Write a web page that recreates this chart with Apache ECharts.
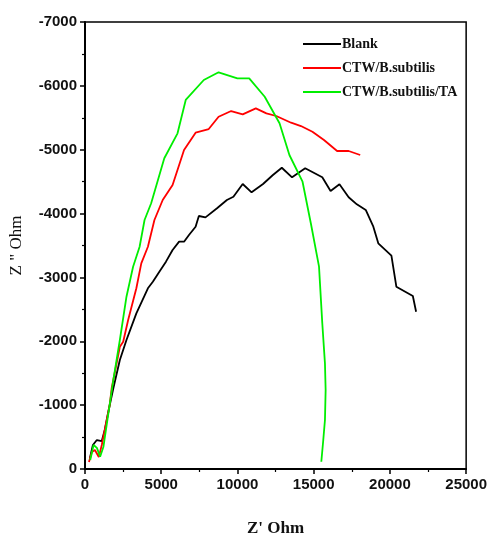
<!DOCTYPE html>
<html>
<head>
<meta charset="utf-8">
<script src="https://cdn.jsdelivr.net/npm/echarts@6/dist/echarts.min.js"></script>
<style>
html,body{margin:0;padding:0;background:#fff;}
#c{width:490px;height:542px;}
</style>
</head>
<body>
<div id="c"></div>
<script>
var seriesNames = ['Blank', 'CTW/B.subtilis', 'CTW/B.subtilis/TA'];
var xTicks = [0, 5000, 10000, 15000, 20000, 25000];
var yTicks = [0, -1000, -2000, -3000, -4000, -5000, -6000, -7000];

var blankX = [324, 518, 777, 1101, 1295, 1554, 1859, 2286, 2720, 3368, 4126, 4450, 4877, 5311, 5745, 6173, 6496, 6820, 7254, 7468, 7902, 8660, 9307, 9735, 10344, 10927, 11678, 12326, 12909, 13582, 14443, 15564, 16108, 16691, 17294, 17831, 18414, 18913, 19237, 20098, 20422, 21504, 21717];
var blankY = [-172, -376, -454, -438, -611, -924, -1264, -1707, -2020, -2438, -2830, -2933, -3090, -3247, -3430, -3560, -3560, -3664, -3794, -3962, -3940, -4083, -4213, -4264, -4463, -4333, -4463, -4604, -4718, -4568, -4709, -4568, -4353, -4458, -4255, -4145, -4056, -3794, -3534, -3340, -2855, -2709, -2463];

var ctwX = [259, 453, 648, 907, 1101, 1360, 1619, 1749, 2286, 2505, 2830, 3368, 3692, 4126, 4553, 5097, 5745, 6496, 7254, 8116, 8763, 9586, 10344, 11205, 11898, 12545, 13517, 14165, 14917, 15674, 16536, 17294, 18051];
var ctwY = [-110, -266, -298, -188, -376, -689, -1002, -1264, -1915, -1993, -2333, -2830, -3221, -3481, -3899, -4213, -4447, -4996, -5267, -5324, -5517, -5606, -5554, -5648, -5570, -5528, -5423, -5371, -5282, -5152, -4980, -4980, -4917];

var taX = [343, 563, 780, 991, 1211, 1859, 2286, 2720, 3154, 3582, 3906, 4340, 5201, 6069, 6607, 7792, 8763, 9994, 10771, 11788, 12760, 13407, 14269, 14813, 15350, 15564, 15739, 15784, 15739, 15629, 15500];
var taY = [-141, -376, -330, -193, -349, -1394, -2020, -2698, -3168, -3481, -3899, -4161, -4866, -5257, -5779, -6092, -6212, -6118, -6118, -5830, -5414, -4917, -4499, -3848, -3168, -2282, -1655, -1237, -767, -454, -114];

function pairs(xs, ys) { return xs.map(function (x, i) { return [x, ys[i]]; }); }

var colors = ['#000000', '#ff0000', '#00ee00'];
var lineIcon = 'path://M0,0 L0.001,0 M0,6 L40,6 L40,8 L0,8 Z M0,14 L0.001,14';
var chart = echarts.init(document.getElementById('c'), null, {renderer: 'canvas'});
var tickFont = {fontFamily: 'Liberation Sans, Arial, sans-serif', fontWeight: 'bold', fontSize: 15, color: '#111'};
function plain(v) { return String(v); }

chart.setOption({
  animation: false,
  backgroundColor: '#fff',
  grid: {left: 83, top: 22, right: 21, bottom: 73, show: true, borderColor: '#000', borderWidth: 1.5, backgroundColor: 'transparent'},
  legend: {
    orient: 'vertical', left: 298, top: 32,
    itemWidth: 38, itemHeight: 14, itemGap: 10, icon: lineIcon,
    data: seriesNames,
    textStyle: {fontFamily: 'Liberation Serif, Times New Roman, serif', fontWeight: 'bold', fontSize: 14, color: '#111', padding: [0, 0, 0, -4]}
  },
  xAxis: {
    type: 'value', min: xTicks[0], max: xTicks[xTicks.length - 1], interval: 5000,
    name: "Z' Ohm", nameLocation: 'middle', nameGap: 51,
    nameTextStyle: {fontFamily: 'Liberation Serif, Times New Roman, serif', fontWeight: 'bold', fontSize: 17, color: '#111'},
    axisLine: {show: true, onZero: false, lineStyle: {color: '#000', width: 2}},
    axisTick: {show: true, length: 5, lineStyle: {color: '#000', width: 1.5}},
    minorTick: {show: true, splitNumber: 2, length: 3, lineStyle: {color: '#000', width: 1.2}},
    splitLine: {show: false},
    axisLabel: Object.assign({margin: 8, formatter: plain}, tickFont)
  },
  yAxis: {
    type: 'value', min: yTicks[yTicks.length - 1], max: yTicks[0], interval: 1000, inverse: true,
    name: 'Z " Ohm', nameLocation: 'middle', nameGap: 60, nameRotate: 90,
    nameTextStyle: {fontFamily: 'Liberation Serif, Times New Roman, serif', fontSize: 17, color: '#111'},
    axisLine: {show: true, onZero: false, lineStyle: {color: '#000', width: 2}},
    axisTick: {show: true, length: 5, lineStyle: {color: '#000', width: 1.5}},
    minorTick: {show: true, splitNumber: 2, length: 3, lineStyle: {color: '#000', width: 1.2}},
    splitLine: {show: false},
    axisLabel: Object.assign({margin: 8, formatter: plain}, tickFont)
  },
  series: [
    {name: seriesNames[0], type: 'line', data: pairs(blankX, blankY), symbol: 'none', lineStyle: {color: colors[0], width: 1.8}, itemStyle: {color: colors[0]}},
    {name: seriesNames[1], type: 'line', data: pairs(ctwX, ctwY), symbol: 'none', lineStyle: {color: colors[1], width: 1.8}, itemStyle: {color: colors[1]}},
    {name: seriesNames[2], type: 'line', data: pairs(taX, taY), symbol: 'none', lineStyle: {color: colors[2], width: 1.8}, itemStyle: {color: colors[2]}}
  ]
});
</script>
</body>
</html>
